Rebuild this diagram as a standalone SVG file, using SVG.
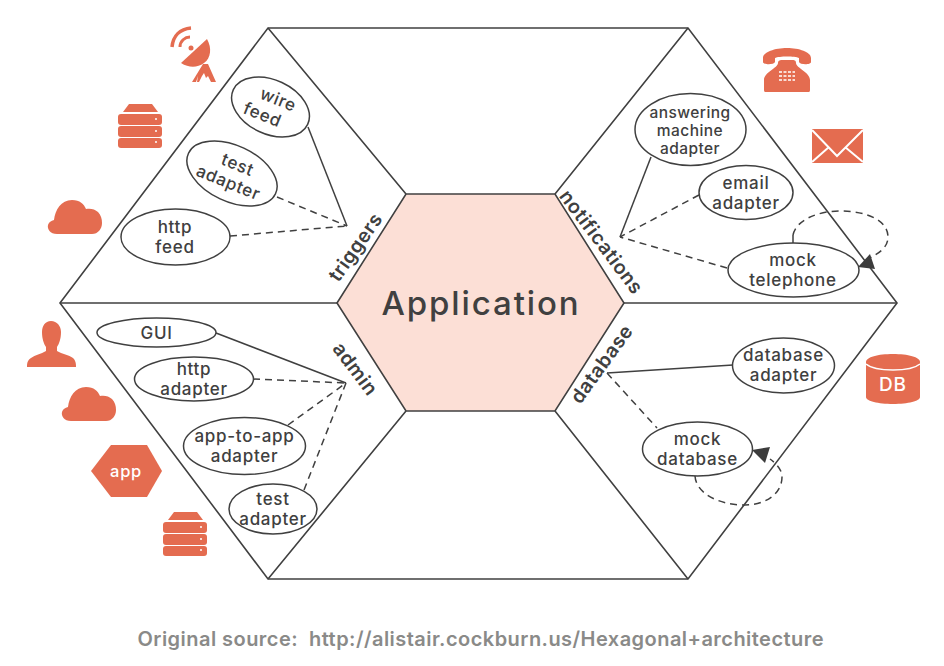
<svg xmlns="http://www.w3.org/2000/svg" width="944" height="666" viewBox="0 0 944 666">
<style>
.hex{fill:none;stroke:#404040;stroke-width:1.6}
.l{fill:none;stroke:#404040;stroke-width:1.5}
.d{fill:none;stroke:#404040;stroke-width:1.5;stroke-dasharray:7 5}
.n{fill:#fff;stroke:#404040;stroke-width:1.5}
text{font-family:"Inter","Liberation Sans",sans-serif;fill:#404040;text-anchor:middle}
.t{font-size:17px;font-weight:500;letter-spacing:.7px}
.a{font-size:15.5px;font-weight:500;letter-spacing:.45px}
.b{font-size:19.5px;font-weight:600;letter-spacing:.5px}
.i{fill:#e46c50}
.w{fill:#fff}
</style>
<defs>
<g id="servers">
<path class="i" d="M7 0H30L36 8H1Z"/>
<rect class="i" x="-4" y="10" width="44" height="11" rx="3"/>
<rect class="i" x="-4" y="22" width="44" height="11" rx="3"/>
<rect class="i" x="-4" y="34" width="44" height="10" rx="3"/>
<circle class="w" cx="34" cy="15" r="1"/><circle class="w" cx="34" cy="27" r="1"/><circle class="w" cx="34" cy="38" r="1"/>
</g>
<path id="cloud" class="i" d="M8 34C1 34-2 29-1 25C0 22 2 21 5 20C6 10 12 0 23 0C31 0 35 4 37 9C41 8 46 9 49 12C52 15 53 19 53 23C53 29 49 34 43 34Z"/>
</defs>
<g id="application"><path d="M337 303L406 194H555L624 303L555 411H406Z" fill="#fcdfd6" stroke="#404040" stroke-width="1.6"/>
<text x="481" y="315" font-size="33" font-weight="500" style="letter-spacing:1.9px">Application</text></g>
<g id="frame">
<path class="hex" d="M60 303L268 28H688L897 303L688 579H268Z"/>
<path class="hex" d="M60 303H337M624 303H897M268 28L406 194M688 28L555 194M268 579L406 411M688 579L555 411"/>
</g>
<g id="connectors">
<path class="l" d="M308 127L347 226"/>
<path class="d" d="M277 197L347 226M230 236L347 226"/>
<path class="l" d="M216 333L346 383"/>
<path class="d" d="M253 379L346 383M288 425L346 383M304 490L346 383"/>
<path class="l" d="M651 157L620 237"/>
<path class="d" d="M699 195L620 237M727 268L620 237"/>
<path class="l" d="M793 243V235"/>
<path class="d" d="M793 235C796 220 818 211 840 211C868 211 888 221 888 237C888 248 878 254 866 260"/>
<path d="M858 267L870 254L875 269Z" fill="#3c3c3c"/>
<path class="l" d="M733 365L607 373"/>
<path class="d" d="M607 373L657 428"/>
<path class="d" d="M695 476C696 493 718 505 745 505C765 505 782 494 782 477C782 470 777 464 770 459"/>
<path d="M752 450L770 447L765 463Z" fill="#3c3c3c"/>
</g>
<g id="wire-feed"><ellipse class="n" cx="270.500" cy="107" rx="41" ry="27" transform="rotate(25 270.500 107)"/>
<g transform="rotate(22 270.500 107)"><text class="t" x="275" y="103">wire</text><text class="t" x="266" y="123">feed</text></g></g>
<g id="test-adapter-1"><ellipse class="n" cx="232" cy="173.500" rx="48" ry="28" transform="rotate(25 232 173.500)"/>
<g transform="rotate(22 232 173.500)"><text class="t" x="234" y="169">test</text><text class="t" x="232" y="189">adapter</text></g></g>
<g id="http-feed"><ellipse class="n" cx="175.500" cy="237" rx="54.500" ry="28"/>
<text class="t" x="175" y="233">http</text><text class="t" x="175" y="253">feed</text></g>
<g id="gui"><ellipse class="n" cx="156.500" cy="332.500" rx="59.500" ry="14.500"/><text class="t" x="156.500" y="339">GUI</text></g>
<g id="http-adapter"><ellipse class="n" cx="194" cy="379" rx="59.500" ry="22"/>
<text class="t" x="194" y="375">http</text><text class="t" x="194" y="395">adapter</text></g>
<g id="app-to-app-adapter"><ellipse class="n" cx="244.500" cy="446" rx="61" ry="28.500"/>
<text class="t" x="244.500" y="442">app-to-app</text><text class="t" x="244.500" y="462">adapter</text></g>
<g id="test-adapter-2"><ellipse class="n" cx="273" cy="509" rx="44" ry="25"/>
<text class="t" x="273" y="505">test</text><text class="t" x="273" y="525">adapter</text></g>
<g id="answering"><ellipse class="n" cx="690.500" cy="129.500" rx="55.500" ry="36"/>
<text class="a" x="690" y="118">answering</text><text class="a" x="690" y="136">machine</text><text class="a" x="690" y="154">adapter</text></g>
<g id="email-adapter"><ellipse class="n" cx="746" cy="192.500" rx="47" ry="27"/>
<text class="t" x="746" y="189">email</text><text class="t" x="746" y="209">adapter</text></g>
<g id="mock-telephone"><ellipse class="n" cx="793.500" cy="270" rx="65.500" ry="27"/>
<text class="t" x="793" y="266">mock</text><text class="t" x="793" y="286">telephone</text></g>
<g id="database-adapter"><ellipse class="n" cx="783.500" cy="365.500" rx="51" ry="27.500"/>
<text class="t" x="783.500" y="361">database</text><text class="t" x="783.500" y="381">adapter</text></g>
<g id="mock-database"><ellipse class="n" cx="697.500" cy="449" rx="55" ry="27"/>
<text class="t" x="697.500" y="445">mock</text><text class="t" x="697.500" y="465">database</text></g>
<g id="labels">
<text class="b" transform="translate(361 251) rotate(-55)">triggers</text>
<text class="b" transform="translate(596 246) rotate(53)">notifications</text>
<text class="b" transform="translate(607 368) rotate(-54)">database</text>
<text class="b" transform="translate(350 373) rotate(53)">admin</text>
</g>
<g id="icon-satellite">
<path fill="none" stroke="#e46c50" stroke-width="3.500" d="M172 47C173 36 180 29 191 28"/>
<path fill="none" stroke="#e46c50" stroke-width="3" d="M180 47C180 41 185 37 190 37"/>
<circle class="i" cx="191" cy="48" r="2.500"/>
<path class="i" d="M181 63L207 39C212 48 211 58 204 63C197 68 189 68 181 63Z"/>
<path class="i" d="M192 82L203 64H208L216 82H211L208 76L206 78L204 73L202 76L199 82H197L198 76L196 82Z"/>
</g>
<use id="icon-server-1" href="#servers" x="122" y="104"/>
<use id="icon-cloud-1" href="#cloud" x="49" y="200"/>
<g id="icon-person"><path class="i" d="M51 321C57 321 61 326 61 332C61 339 59 344 57 347V351C62 354 69 355 73 358C75 360 76 362 76 367H27C27 362 28 360 31 358C35 355 41 354 46 351V347C44 344 42 339 42 332C42 326 45 321 51 321Z"/></g>
<use id="icon-cloud-2" href="#cloud" x="63" y="387"/>
<g id="icon-app"><path class="i" d="M91 471L111 445H147L162 471L147 497H111Z"/><text x="126" y="477" font-size="16.500" font-weight="500" style="fill:#fff;letter-spacing:.7px">app</text></g>
<use id="icon-server-2" href="#servers" x="167" y="512"/>
<g id="icon-phone">
<path class="i" d="M763 58C763 52 775 48 787 48C799 48 811 52 811 58V62C811 65 800 65 799 62V58C795 56 779 56 775 58V62C774 65 763 65 763 62Z"/>
<path class="i" d="M778 63C778 60 781 60 782 60H792C794 60 796 60 796 63C796 68 810 72 810 80V90C810 92 809 92 808 92H766C765 92 764 92 764 90V80C764 72 778 68 778 63Z"/>
<path d="M779 72H795M779 76H795M779 80H795" stroke="#fff" stroke-width="1.500" stroke-dasharray="3 1.500"/>
</g>
<g id="icon-mail"><rect class="i" x="812" y="129" width="51" height="34"/><path d="M812 130L837 156L863 130M812 162L829 147M863 162L845 147" fill="none" stroke="#fff" stroke-width="2"/></g>
<g id="icon-db"><path class="i" d="M866 362C866 357 878 354 893 354C908 354 920 357 920 362V397C920 401 908 404 893 404C878 404 866 401 866 397Z"/>
<path d="M866 364C872 369 884 370 893 370C903 370 914 369 920 364" fill="none" stroke="#fff" stroke-width="1.500"/>
<text x="893" y="391" font-size="19" font-weight="500" style="fill:#fff;letter-spacing:.8px">DB</text></g>
<text id="source" x="480.500" y="646" font-size="20" font-weight="600" textLength="686" xml:space="preserve" style="fill:#8a8a88">Original source:  http://alistair.cockburn.us/Hexagonal+architecture</text>
</svg>
